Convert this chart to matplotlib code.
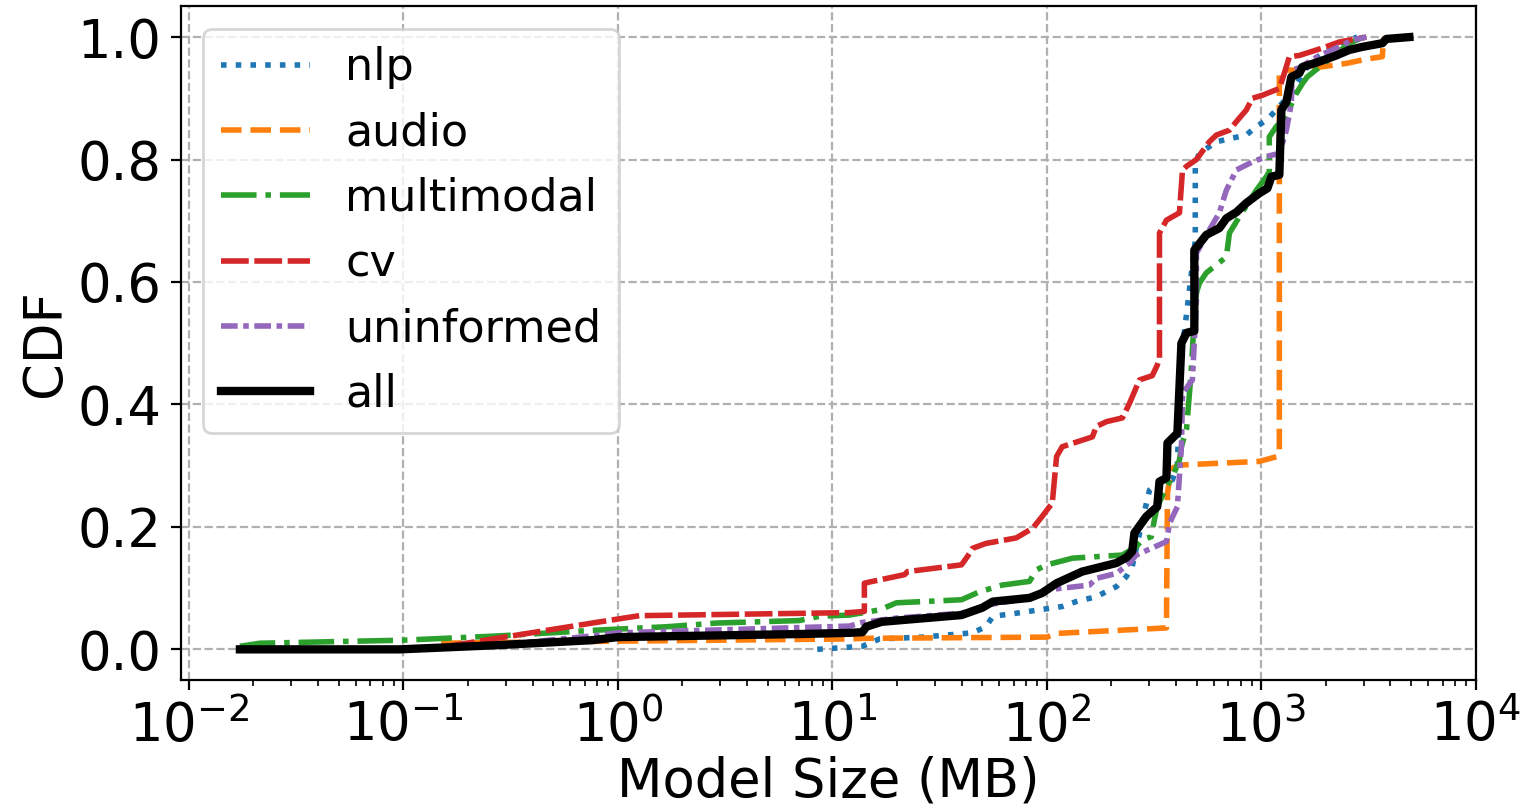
import matplotlib
matplotlib.use("Agg")
import matplotlib.pyplot as plt
from matplotlib.ticker import NullFormatter

# Empirical CDF curves of model size (MB) per task category
nlp_mb = [8.5, 13.8, 16.6, 26.3, 45, 52, 56, 72, 118, 137, 170, 211, 235, 250,
          279, 301, 335, 385, 406, 424, 438, 492, 492, 514, 617, 733, 851, 948,
          1055, 1175, 1394, 1455, 1700, 2300, 2800]
nlp_cdf = [0.0, 0.005, 0.017, 0.02, 0.027, 0.037, 0.054, 0.059, 0.07, 0.078,
           0.086, 0.1025, 0.119, 0.135, 0.211, 0.26, 0.274, 0.277, 0.30, 0.50,
           0.519, 0.668, 0.794, 0.81, 0.829, 0.835, 0.84, 0.854, 0.864, 0.881,
           0.911, 0.924, 0.96, 0.99, 1.0]

audio_mb = [0.15, 0.76, 12, 14, 100, 111, 243, 361, 365, 380, 415, 979, 1188,
            1213, 1213, 1503, 1864, 2489, 3085, 3664, 3700, 3750]
audio_cdf = [0.01, 0.013, 0.017, 0.018, 0.02, 0.026, 0.032, 0.035, 0.255,
             0.295, 0.301, 0.307, 0.315, 0.32, 0.946, 0.946, 0.951, 0.957,
             0.964, 0.968, 0.99, 1.0]

multimodal_mb = [0.0173, 0.0214, 0.1, 0.28, 0.76, 1.7, 2.9, 7.0, 8.7, 12, 16.6,
                 19.9, 40, 48.5, 62, 83, 89.5, 100, 132, 225, 261, 279, 307,
                 317, 327, 342, 361, 385, 415, 424, 448, 470, 490, 498, 514,
                 554, 687, 710, 791, 948, 1055, 1089, 1089, 1175, 1300, 1455,
                 1553, 1637, 1864, 2570, 3000]
multimodal_cdf = [0.005, 0.01, 0.015, 0.022, 0.031, 0.037, 0.043, 0.047, 0.054,
                  0.056, 0.0645, 0.076, 0.081, 0.094, 0.105, 0.111, 0.13, 0.138,
                  0.149, 0.154, 0.168, 0.179, 0.184, 0.211, 0.233, 0.247, 0.266,
                  0.282, 0.309, 0.331, 0.36, 0.45, 0.56, 0.582, 0.598, 0.615,
                  0.641, 0.68, 0.707, 0.75, 0.772, 0.78, 0.837, 0.854, 0.87,
                  0.908, 0.924, 0.935, 0.951, 0.99, 1.0]

cv_mb = [0.16, 0.76, 1.26, 12, 14.1, 14.1, 14.9, 21.7, 22.4, 40, 42.7, 45, 52,
         72, 86, 95, 106, 111, 118, 163, 170, 190, 225, 243, 270, 310, 327,
         335, 335, 361, 415, 429, 448, 498, 572, 617, 710, 765, 851, 908, 1011,
         1213, 1280, 1351, 1503, 1924, 2309, 3085]
cv_cdf = [0.005, 0.043, 0.055, 0.06, 0.062, 0.108, 0.11, 0.122, 0.127, 0.138,
          0.152, 0.165, 0.173, 0.182, 0.198, 0.217, 0.239, 0.315, 0.331, 0.347,
          0.364, 0.372, 0.378, 0.402, 0.44, 0.447, 0.464, 0.475, 0.68, 0.701,
          0.713, 0.783, 0.789, 0.80, 0.829, 0.84, 0.848, 0.862, 0.881, 0.90,
          0.905, 0.916, 0.941, 0.968, 0.97, 0.982, 0.992, 1.0]

uninformed_mb = [0.3, 0.76, 1.0, 12, 13.8, 19.9, 40, 54, 83, 99.6, 158, 170,
                 211, 243, 261, 361, 373, 406, 424, 429, 477, 498, 498, 572,
                 637, 687, 765, 908, 1055, 1213, 1308, 1380, 1394, 1503, 1864,
                 2143, 2655, 3085]
uninformed_cdf = [0.008, 0.022, 0.027, 0.038, 0.044, 0.051, 0.059, 0.073,
                  0.084, 0.097, 0.105, 0.116, 0.124, 0.141, 0.154, 0.176,
                  0.206, 0.233, 0.331, 0.418, 0.44, 0.57, 0.647, 0.685, 0.713,
                  0.75, 0.783, 0.796, 0.805, 0.81, 0.848, 0.892, 0.946, 0.95,
                  0.97, 0.979, 0.995, 1.0]

all_mb = [0.0173, 0.096, 0.153, 0.28, 0.76, 1.0, 7.0, 12, 13.8, 14.4, 17, 40,
          50, 56, 83, 95, 111, 146, 211, 235, 250, 256, 291, 327, 335, 361,
          365, 406, 424, 448, 487, 487, 554, 637, 687, 765, 851, 979, 1067,
          1114, 1213, 1240, 1308, 1380, 1503, 1553, 1864, 2236, 2570, 2956,
          3664, 3828, 4898]
all_cdf = [0.0, 0.0, 0.003, 0.007, 0.015, 0.02, 0.025, 0.027, 0.028, 0.037,
           0.045, 0.056, 0.068, 0.078, 0.084, 0.092, 0.108, 0.127, 0.141,
           0.15, 0.16, 0.19, 0.217, 0.233, 0.274, 0.28, 0.337, 0.353, 0.50,
           0.517, 0.52, 0.652, 0.677, 0.688, 0.704, 0.714, 0.729, 0.745, 0.753,
           0.772, 0.775, 0.881, 0.894, 0.935, 0.941, 0.951, 0.96, 0.97, 0.979,
           0.984, 0.99, 0.997, 1.0]

series = [
    ("nlp", nlp_mb, nlp_cdf, "tab:blue", ":", 2.0),
    ("audio", audio_mb, audio_cdf, "tab:orange", "--", 2.0),
    ("multimodal", multimodal_mb, multimodal_cdf, "tab:green", "-.", 2.0),
    ("cv", cv_mb, cv_cdf, "tab:red", (0, (5, 1)), 2.0),
    ("uninformed", uninformed_mb, uninformed_cdf, "tab:purple", (0, (3, 1, 1, 1)), 2.0),
    ("all", all_mb, all_cdf, "black", "-", 3.0),
]

fig = plt.figure(figsize=(7.635, 4.045), dpi=200)
ax = fig.add_axes([0.1185, 0.1595, 0.848, 0.8325])

for label, xs, ys, color, ls, lw in series:
    ax.plot(xs, ys, color=color, linestyle=ls, linewidth=lw, label=label)

ax.set_xscale("log")
ax.set_xlim(10 ** -2.037, 1e4)
ax.set_ylim(-0.05, 1.05)
ax.set_yticks([0.0, 0.2, 0.4, 0.6, 0.8, 1.0])
ax.xaxis.set_minor_formatter(NullFormatter())
ax.grid(True, which="major", linestyle="--", color="#b0b0b0", linewidth=0.8)
ax.tick_params(axis="both", which="major", labelsize=19)
ax.set_xlabel("Model Size (MB)", fontsize=19, labelpad=1)
ax.set_ylabel("CDF", fontsize=19, labelpad=2.5)
ax.legend(loc="upper left", fontsize=16)

fig.savefig("out.png", dpi=200)
